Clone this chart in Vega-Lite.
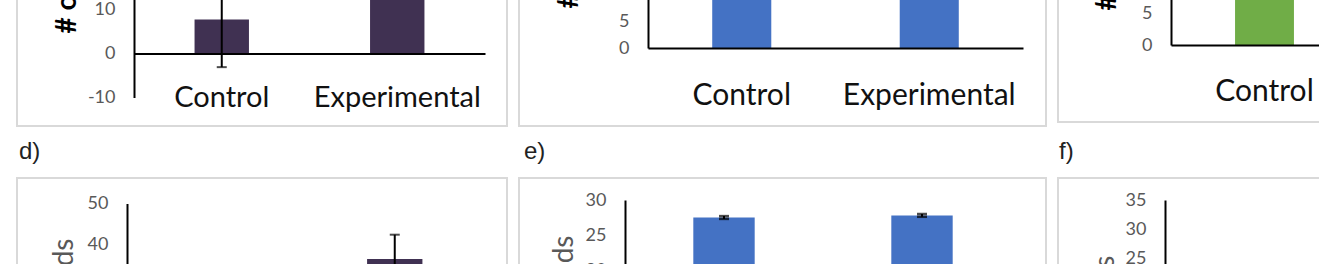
{
  "$schema": "https://vega.github.io/schema/vega-lite/v6.json",
  "autosize": {"type": "pad"},
  "padding": {"left": 16, "top": -140, "right": -267, "bottom": -215},
  "background": "white",
  "data": {"values": [
    {"panel": "a", "group": "Control", "mean": 7.7, "lo": -3.1, "hi": 18.5},
    {"panel": "a", "group": "Experimental", "mean": 24, "lo": 16, "hi": 32},
    {"panel": "b", "group": "Control", "mean": 21, "lo": 19, "hi": 23},
    {"panel": "b", "group": "Experimental", "mean": 22, "lo": 20, "hi": 24},
    {"panel": "c", "group": "Control", "mean": 19, "lo": 17, "hi": 21},
    {"panel": "c", "group": "Experimental", "mean": 20, "lo": 18, "hi": 22},
    {"panel": "d", "group": "Control", "mean": 28, "lo": 24, "hi": 32},
    {"panel": "d", "group": "Experimental", "mean": 36.3, "lo": 30.3, "hi": 42.3},
    {"panel": "e", "group": "Control", "mean": 27.5, "lo": 27.3, "hi": 27.7},
    {"panel": "e", "group": "Experimental", "mean": 27.8, "lo": 27.6, "hi": 28.0},
    {"panel": "f", "group": "Control", "mean": 21, "lo": 20, "hi": 22},
    {"panel": "f", "group": "Experimental", "mean": 22, "lo": 21, "hi": 23}
  ]},
  "bounds": "flush",
  "columns": 3,
  "spacing": {"row": 52, "column": 12},
  "concat": [
    {
      "width": 490, "height": 265,
      "transform": [{"filter": "datum.panel === 'a'"}],
      "layer": [
        {"mark": {"type": "bar", "color": "#403152"},
         "encoding": {
           "x": {"field": "group", "type": "nominal", "scale": {"domain": ["Control", "Experimental"], "range": [117, 468], "paddingInner": 0.69, "paddingOuter": 0.345},
                 "axis": {"orient": "bottom", "offset": -72.5, "labels": false, "ticks": false, "domain": true, "domainColor": "#000", "domainWidth": 2, "grid": false, "title": null, "zindex": 1}},
           "y": {"field": "mean", "type": "quantitative", "scale": {"domain": [-10, 40], "range": [236.5, 16.5], "nice": false, "zero": false},
                 "axis": {"orient": "left", "offset": -117, "values": [-10, 0, 10, 20, 30, 40], "labelExpr": "'' + datum.value", "ticks": false, "tickSize": 0, "labelPadding": 19, "labelFlush": false, "labelFontSize": 18, "labelColor": "#595959", "domainColor": "#000", "domainWidth": 2, "grid": false, "zindex": 1,
                          "title": "# of Eggs", "titleFontSize": 28, "titleFontWeight": "bold", "titleColor": "#000", "titleAngle": 270, "titleAlign": "left", "titleBaseline": "alphabetic", "titleX": -59, "titleY": 172}}
         }},
        {"mark": {"type": "rule", "color": "#000", "strokeWidth": 2},
         "encoding": {
           "x": {"field": "group", "type": "nominal", "axis": {"orient": "bottom", "offset": -20, "domain": false, "ticks": false, "tickSize": 0, "labelPadding": 0, "labelBaseline": "alphabetic", "labelAngle": 0, "labelFontSize": 29, "labelColor": "#111", "labelLimit": 400, "grid": false, "title": null}},
           "y": {"field": "lo", "type": "quantitative"},
           "y2": {"field": "hi"}
         }},
        {"mark": {"type": "tick", "color": "#000", "size": 10, "thickness": 2},
         "encoding": {"x": {"field": "group", "type": "nominal", "axis": null}, "y": {"field": "lo", "type": "quantitative"}}},
        {"mark": {"type": "tick", "color": "#000", "size": 10, "thickness": 2},
         "encoding": {"x": {"field": "group", "type": "nominal", "axis": null}, "y": {"field": "hi", "type": "quantitative"}}}
      ],
      "resolve": {"axis": {"x": "independent"}}
    },
    {
      "width": 527, "height": 265,
      "transform": [{"filter": "datum.panel === 'b'"}],
      "layer": [
        {"mark": {"type": "bar", "color": "#4472C4"},
         "encoding": {
           "x": {"field": "group", "type": "nominal", "scale": {"domain": ["Control", "Experimental"], "range": [129, 504], "paddingInner": 0.685, "paddingOuter": 0.3425},
                 "axis": {"orient": "bottom", "offset": -78, "labels": false, "ticks": false, "domain": true, "domainColor": "#000", "domainWidth": 2, "grid": false, "title": null, "zindex": 1}},
           "y": {"field": "mean", "type": "quantitative", "scale": {"domain": [0, 30], "range": [187, 25], "nice": false, "zero": false},
                 "axis": {"orient": "left", "offset": -129, "values": [0, 5, 10, 15, 20, 25, 30], "labelExpr": "'' + datum.value", "ticks": false, "tickSize": 0, "labelPadding": 19, "labelFlush": false, "labelFontSize": 18, "labelColor": "#595959", "domainColor": "#000", "domainWidth": 2, "grid": false, "zindex": 1,
                          "title": "# of Eggs", "titleFontSize": 28, "titleFontWeight": "bold", "titleColor": "#000", "titleAngle": 270, "titleAlign": "left", "titleBaseline": "alphabetic", "titleX": -71, "titleY": 147}}
         }},
        {"mark": {"type": "rule", "color": "#000", "strokeWidth": 2},
         "encoding": {
           "x": {"field": "group", "type": "nominal", "axis": {"orient": "bottom", "offset": -22, "domain": false, "ticks": false, "tickSize": 0, "labelPadding": 0, "labelBaseline": "alphabetic", "labelAngle": 0, "labelFontSize": 30, "labelColor": "#111", "labelLimit": 400, "grid": false, "title": null}},
           "y": {"field": "lo", "type": "quantitative"},
           "y2": {"field": "hi"}
         }},
        {"mark": {"type": "tick", "color": "#000", "size": 10, "thickness": 2},
         "encoding": {"x": {"field": "group", "type": "nominal", "axis": null}, "y": {"field": "lo", "type": "quantitative"}}},
        {"mark": {"type": "tick", "color": "#000", "size": 10, "thickness": 2},
         "encoding": {"x": {"field": "group", "type": "nominal", "axis": null}, "y": {"field": "hi", "type": "quantitative"}}}
      ],
      "resolve": {"axis": {"x": "independent"}}
    },
    {
      "width": 527, "height": 261,
      "transform": [{"filter": "datum.panel === 'c'"}],
      "layer": [
        {"mark": {"type": "bar", "color": "#70AD47"},
         "encoding": {
           "x": {"field": "group", "type": "nominal", "scale": {"domain": ["Control", "Experimental"], "range": [113, 487], "paddingInner": 0.685, "paddingOuter": 0.3425},
                 "axis": {"orient": "bottom", "offset": -77, "labels": false, "ticks": false, "domain": true, "domainColor": "#000", "domainWidth": 2, "grid": false, "title": null, "zindex": 1}},
           "y": {"field": "mean", "type": "quantitative", "scale": {"domain": [0, 25], "range": [184, 24], "nice": false, "zero": false},
                 "axis": {"orient": "left", "offset": -113, "values": [0, 5, 10, 15, 20, 25], "labelExpr": "'' + datum.value", "ticks": false, "tickSize": 0, "labelPadding": 19, "labelFlush": false, "labelFontSize": 18, "labelColor": "#595959", "domainColor": "#000", "domainWidth": 2, "grid": false, "zindex": 1,
                          "title": "# of Eggs", "titleFontSize": 28, "titleFontWeight": "bold", "titleColor": "#000", "titleAngle": 270, "titleAlign": "left", "titleBaseline": "alphabetic", "titleX": -56, "titleY": 149}}
         }},
        {"mark": {"type": "rule", "color": "#000", "strokeWidth": 2},
         "encoding": {
           "x": {"field": "group", "type": "nominal", "axis": {"orient": "bottom", "offset": -22, "domain": false, "ticks": false, "tickSize": 0, "labelPadding": 0, "labelBaseline": "alphabetic", "labelAngle": 0, "labelFontSize": 30, "labelColor": "#111", "labelLimit": 400, "grid": false, "title": null}},
           "y": {"field": "lo", "type": "quantitative"},
           "y2": {"field": "hi"}
         }},
        {"mark": {"type": "tick", "color": "#000", "size": 10, "thickness": 2},
         "encoding": {"x": {"field": "group", "type": "nominal", "axis": null}, "y": {"field": "lo", "type": "quantitative"}}},
        {"mark": {"type": "tick", "color": "#000", "size": 10, "thickness": 2},
         "encoding": {"x": {"field": "group", "type": "nominal", "axis": null}, "y": {"field": "hi", "type": "quantitative"}}}
      ],
      "resolve": {"axis": {"x": "independent"}}
    },
    {
      "width": 490, "height": 300,
      "title": {"text": "d)", "anchor": "start", "offset": 15, "dy": 20, "baseline": "alphabetic", "fontSize": 24, "font": "Liberation Sans", "fontWeight": "normal", "color": "#222", "dx": 2},
      "transform": [{"filter": "datum.panel === 'd'"}],
      "layer": [
        {"mark": {"type": "bar", "color": "#403152"},
         "encoding": {
           "x": {"field": "group", "type": "nominal", "scale": {"domain": ["Control", "Experimental"], "range": [110, 467], "paddingInner": 0.69, "paddingOuter": 0.345},
                 "axis": {"orient": "bottom", "offset": -72, "labels": false, "ticks": false, "domain": true, "domainColor": "#000", "domainWidth": 2, "grid": false, "title": null, "zindex": 1}},
           "y": {"field": "mean", "type": "quantitative", "scale": {"domain": [0, 50], "range": [228, 25.5], "nice": false, "zero": false},
                 "axis": {"orient": "left", "offset": -110, "values": [0, 10, 20, 30, 40, 50], "labelExpr": "'' + datum.value", "ticks": false, "tickSize": 0, "labelPadding": 19, "labelFlush": false, "labelFontSize": 18, "labelColor": "#595959", "domainColor": "#000", "domainWidth": 2, "grid": false, "zindex": 1,
                          "title": "# of Seeds", "titleFontSize": 28, "titleFontWeight": "normal", "titleColor": "#595959", "titleAngle": 270, "titleAlign": "right", "titleBaseline": "alphabetic", "titleX": -55, "titleY": 60}}
         }},
        {"mark": {"type": "rule", "color": "#000", "strokeWidth": 2},
         "encoding": {
           "x": {"field": "group", "type": "nominal", "axis": {"orient": "bottom", "offset": -22, "domain": false, "ticks": false, "tickSize": 0, "labelPadding": 0, "labelBaseline": "alphabetic", "labelAngle": 0, "labelFontSize": 29, "labelColor": "#111", "labelLimit": 400, "grid": false, "title": null}},
           "y": {"field": "lo", "type": "quantitative"},
           "y2": {"field": "hi"}
         }},
        {"mark": {"type": "tick", "color": "#000", "size": 10, "thickness": 2},
         "encoding": {"x": {"field": "group", "type": "nominal", "axis": null}, "y": {"field": "lo", "type": "quantitative"}}},
        {"mark": {"type": "tick", "color": "#000", "size": 10, "thickness": 2},
         "encoding": {"x": {"field": "group", "type": "nominal", "axis": null}, "y": {"field": "hi", "type": "quantitative"}}}
      ],
      "resolve": {"axis": {"x": "independent"}}
    },
    {
      "width": 527, "height": 300,
      "title": {"text": "e)", "anchor": "start", "offset": 15, "dy": 20, "baseline": "alphabetic", "fontSize": 24, "font": "Liberation Sans", "fontWeight": "normal", "color": "#222", "dx": 5},
      "transform": [{"filter": "datum.panel === 'e'"}],
      "layer": [
        {"mark": {"type": "bar", "color": "#4472C4"},
         "encoding": {
           "x": {"field": "group", "type": "nominal", "scale": {"domain": ["Control", "Experimental"], "range": [106, 502], "paddingInner": 0.69, "paddingOuter": 0.345},
                 "axis": {"orient": "bottom", "offset": -68, "labels": false, "ticks": false, "domain": true, "domainColor": "#000", "domainWidth": 2, "grid": false, "title": null, "zindex": 1}},
           "y": {"field": "mean", "type": "quantitative", "scale": {"domain": [0, 30], "range": [232, 22], "nice": false, "zero": false},
                 "axis": {"orient": "left", "offset": -106, "values": [0, 5, 10, 15, 20, 25, 30], "labelExpr": "'' + datum.value", "ticks": false, "tickSize": 0, "labelPadding": 19, "labelFlush": false, "labelFontSize": 18, "labelColor": "#595959", "domainColor": "#000", "domainWidth": 2, "grid": false, "zindex": 1,
                          "title": "# of Seeds", "titleFontSize": 28, "titleFontWeight": "normal", "titleColor": "#595959", "titleAngle": 270, "titleAlign": "right", "titleBaseline": "alphabetic", "titleX": -53, "titleY": 57}}
         }},
        {"mark": {"type": "rule", "color": "#000", "strokeWidth": 2},
         "encoding": {
           "x": {"field": "group", "type": "nominal", "axis": {"orient": "bottom", "offset": -22, "domain": false, "ticks": false, "tickSize": 0, "labelPadding": 0, "labelBaseline": "alphabetic", "labelAngle": 0, "labelFontSize": 30, "labelColor": "#111", "labelLimit": 400, "grid": false, "title": null}},
           "y": {"field": "lo", "type": "quantitative"},
           "y2": {"field": "hi"}
         }},
        {"mark": {"type": "tick", "color": "#000", "size": 10, "thickness": 2.5},
         "encoding": {"x": {"field": "group", "type": "nominal", "axis": null}, "y": {"field": "lo", "type": "quantitative"}}},
        {"mark": {"type": "tick", "color": "#000", "size": 10, "thickness": 2.5},
         "encoding": {"x": {"field": "group", "type": "nominal", "axis": null}, "y": {"field": "hi", "type": "quantitative"}}}
      ],
      "resolve": {"axis": {"x": "independent"}}
    },
    {
      "width": 527, "height": 300,
      "title": {"text": "f)", "anchor": "start", "offset": 15, "dy": 20, "baseline": "alphabetic", "fontSize": 24, "font": "Liberation Sans", "fontWeight": "normal", "color": "#222", "dx": 1},
      "transform": [{"filter": "datum.panel === 'f'"}],
      "layer": [
        {"mark": {"type": "bar", "color": "#70AD47"},
         "encoding": {
           "x": {"field": "group", "type": "nominal", "scale": {"domain": ["Control", "Experimental"], "range": [107, 503], "paddingInner": 0.69, "paddingOuter": 0.345},
                 "axis": {"orient": "bottom", "offset": -75, "labels": false, "ticks": false, "domain": true, "domainColor": "#000", "domainWidth": 2, "grid": false, "title": null, "zindex": 1}},
           "y": {"field": "mean", "type": "quantitative", "scale": {"domain": [0, 35], "range": [225, 22], "nice": false, "zero": false},
                 "axis": {"orient": "left", "offset": -107, "values": [0, 5, 10, 15, 20, 25, 30, 35], "labelExpr": "'' + datum.value", "ticks": false, "tickSize": 0, "labelPadding": 19, "labelFlush": false, "labelFontSize": 18, "labelColor": "#595959", "domainColor": "#000", "domainWidth": 2, "grid": false, "zindex": 1,
                          "title": "# Seeds", "titleFontSize": 28, "titleFontWeight": "normal", "titleColor": "#595959", "titleAngle": 270, "titleAlign": "right", "titleBaseline": "alphabetic", "titleX": -52, "titleY": 77}}
         }},
        {"mark": {"type": "rule", "color": "#000", "strokeWidth": 2},
         "encoding": {
           "x": {"field": "group", "type": "nominal", "axis": {"orient": "bottom", "offset": -22, "domain": false, "ticks": false, "tickSize": 0, "labelPadding": 0, "labelBaseline": "alphabetic", "labelAngle": 0, "labelFontSize": 30, "labelColor": "#111", "labelLimit": 400, "grid": false, "title": null}},
           "y": {"field": "lo", "type": "quantitative"},
           "y2": {"field": "hi"}
         }},
        {"mark": {"type": "tick", "color": "#000", "size": 10, "thickness": 2},
         "encoding": {"x": {"field": "group", "type": "nominal", "axis": null}, "y": {"field": "lo", "type": "quantitative"}}},
        {"mark": {"type": "tick", "color": "#000", "size": 10, "thickness": 2},
         "encoding": {"x": {"field": "group", "type": "nominal", "axis": null}, "y": {"field": "hi", "type": "quantitative"}}}
      ],
      "resolve": {"axis": {"x": "independent"}}
    }
  ],
  "config": {
    "view": {"stroke": "#d9d9d9", "strokeWidth": 2},
    "font": "Lato",
    "axis": {"labelFont": "Lato", "titleFont": "Lato"}
  }
}
